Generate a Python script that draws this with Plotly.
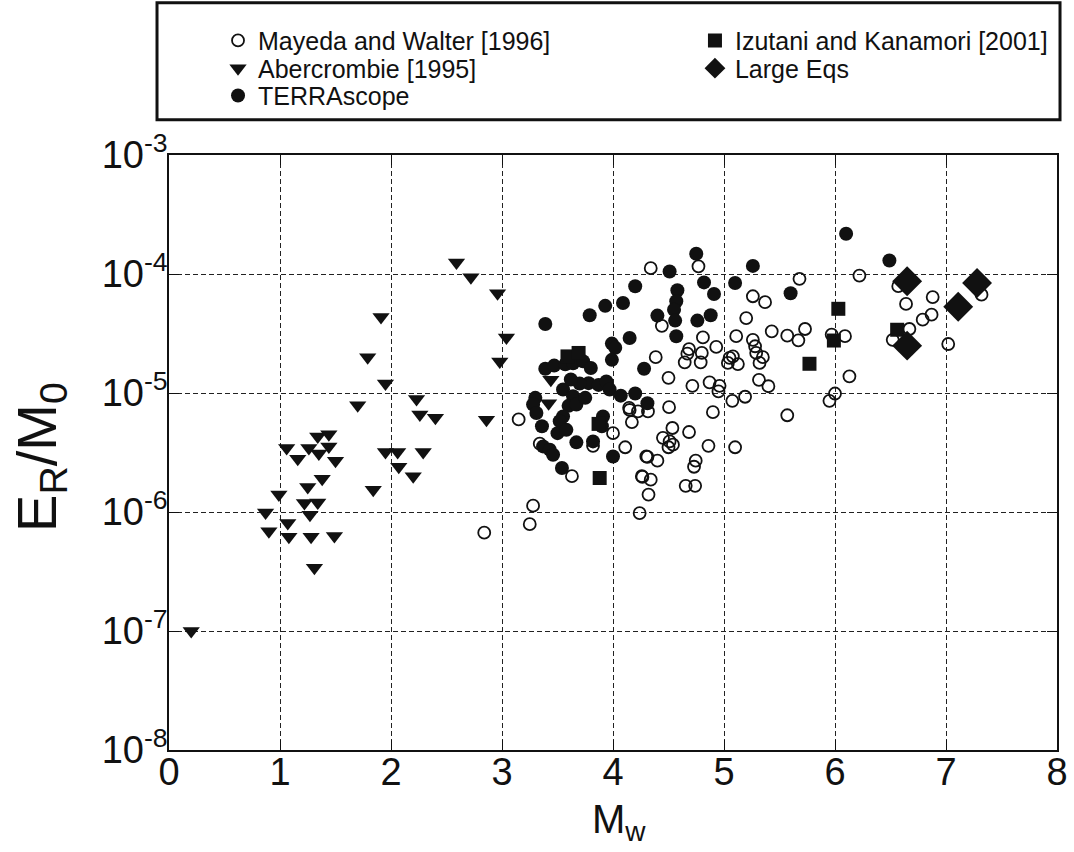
import plotly.graph_objects as go

# ---------------- data ----------------
mayeda_mw = [3.15, 3.28, 3.25, 2.84, 3.34, 3.63, 3.82, 4.00, 4.11, 4.15, 4.225, 4.17,
             4.30, 4.26, 4.32, 4.24, 4.34, 4.77, 5.68, 5.26, 5.37, 5.20, 4.44, 4.81,
             5.11, 5.26, 5.28, 5.29, 5.35, 5.32, 4.93, 4.685, 4.67, 4.646, 4.80, 4.79,
             4.385, 5.05, 5.08, 5.125, 5.035, 5.43, 5.57, 5.67, 5.73, 6.09, 5.97, 6.22,
             6.57, 6.64, 6.88, 6.87, 6.79, 6.67, 6.52, 7.32, 7.02, 6.13, 6.00, 5.95,
             5.57, 5.315, 5.40, 5.075, 5.19, 4.90, 4.87, 4.96, 4.95, 4.715, 4.50, 4.505,
             5.10, 4.685, 4.86, 4.535, 4.45, 4.51, 4.54, 4.50, 4.31, 4.40, 4.265, 4.34,
             4.745, 4.73, 4.655, 4.74, 4.145, 4.315]
mayeda_er = [6.0e-6, 1.13e-6, 7.9e-7, 6.7e-7, 3.75e-6, 2.0e-6, 3.6e-6, 4.6e-6, 3.5e-6, 7.2e-6, 7.0e-6, 5.7e-6,
             2.93e-6, 2.0e-6, 1.4e-6, 9.8e-7, 1.12e-4, 1.16e-4, 9.1e-5, 6.5e-5, 5.8e-5, 4.26e-5, 3.67e-5, 2.93e-5,
             3.0e-5, 2.8e-5, 2.47e-5, 2.17e-5, 2.0e-5, 1.79e-5, 2.44e-5, 2.34e-5, 2.14e-5, 1.81e-5, 2.17e-5, 1.81e-5,
             2.0e-5, 1.97e-5, 2.03e-5, 1.75e-5, 1.79e-5, 3.3e-5, 3.03e-5, 2.77e-5, 3.45e-5, 3.0e-5, 3.1e-5, 9.7e-5,
             7.9e-5, 5.6e-5, 6.4e-5, 4.55e-5, 4.13e-5, 3.45e-5, 2.8e-5, 6.7e-5, 2.58e-5, 1.38e-5, 9.9e-6, 8.6e-6,
             6.5e-6, 1.29e-5, 1.14e-5, 8.6e-6, 9.3e-6, 6.9e-6, 1.23e-5, 1.15e-5, 1.03e-5, 1.15e-5, 1.34e-5, 7.6e-6,
             3.5e-6, 4.7e-6, 3.6e-6, 5.08e-6, 4.2e-6, 3.92e-6, 3.68e-6, 3.5e-6, 2.9e-6, 2.7e-6, 1.97e-6, 1.87e-6,
             2.7e-6, 2.4e-6, 1.66e-6, 1.66e-6, 7.5e-6, 7.0e-6]

aber_mw = [2.59, 2.72, 2.96, 3.04, 2.98, 1.91, 1.79, 1.95, 1.70, 2.23, 2.26, 2.40, 2.86,
           1.95, 2.06, 2.29, 2.07, 2.20, 1.84,
           1.06, 1.16, 1.26, 1.34, 1.44, 1.35, 1.44, 1.50, 1.38, 1.25, 0.99, 1.22, 1.34,
           1.27, 0.87, 1.07, 0.90, 1.08, 1.28, 1.49, 1.31, 0.20, 3.44, 3.42]
aber_er = [1.25e-4, 9.4e-5, 6.9e-5, 2.93e-5, 1.84e-5, 4.35e-5, 2.0e-5, 1.2e-5, 7.9e-6, 8.9e-6, 6.6e-6, 6.2e-6, 5.97e-6,
           3.2e-6, 3.2e-6, 3.2e-6, 2.4e-6, 2.0e-6, 1.54e-6,
           3.45e-6, 2.8e-6, 3.45e-6, 4.3e-6, 4.5e-6, 3.1e-6, 3.56e-6, 2.7e-6, 1.9e-6, 1.62e-6, 1.4e-6, 1.19e-6, 1.2e-6,
           9.5e-7, 9.9e-7, 8.1e-7, 6.9e-7, 6.2e-7, 6.2e-7, 6.3e-7, 3.4e-7, 1.0e-7, 1.29e-5, 8.2e-6]

terra_mw = [3.39, 3.79, 3.93, 4.09, 4.20, 4.15, 3.99, 4.02, 3.99, 4.28, 3.39, 3.47, 3.57, 3.64,
            3.73, 3.80, 3.78, 3.87, 3.94, 3.97, 3.55, 3.64, 3.60, 3.67, 3.75, 3.30, 3.28, 3.31,
            3.55, 3.52, 3.50, 3.58, 3.36, 3.37, 3.43, 3.46, 3.54, 3.67, 3.82, 3.91, 3.90, 4.00,
            4.07, 4.75, 4.51, 5.26, 4.82, 4.91, 5.10, 4.58, 4.57, 4.55, 4.56, 4.40, 4.76, 4.88,
            4.57, 4.20, 4.31, 6.10, 6.49, 5.60, 3.70, 3.62]
terra_er = [3.8e-5, 4.5e-5, 5.4e-5, 5.7e-5, 7.9e-5, 2.9e-5, 2.6e-5, 2.4e-5, 1.9e-5, 1.6e-5, 1.6e-5, 1.7e-5, 1.74e-5, 1.78e-5,
            1.85e-5, 1.62e-5, 1.21e-5, 1.17e-5, 1.25e-5, 1.07e-5, 1.07e-5, 9.4e-6, 7.8e-6, 8.0e-6, 9.1e-6, 9.1e-6, 8.0e-6, 6.8e-6,
            6.35e-6, 5.8e-6, 4.6e-6, 4.9e-6, 5.25e-6, 3.56e-6, 3.34e-6, 3.03e-6, 2.34e-6, 3.85e-6, 3.92e-6, 6.35e-6, 5.25e-6, 2.93e-6,
            9.5e-6, 1.48e-4, 1.05e-4, 1.17e-4, 8.5e-5, 6.8e-5, 8.4e-5, 7.3e-5, 5.9e-5, 5.0e-5, 4.06e-5, 4.47e-5, 4.06e-5, 4.5e-5,
            3.0e-5, 9.9e-6, 8.2e-6, 2.18e-4, 1.3e-4, 6.9e-5, 1.2e-5, 1.3e-5]

izu_mw = [3.59, 3.69, 3.87, 3.88, 6.03, 5.99, 5.77, 6.56]
izu_er = [2.03e-5, 2.17e-5, 5.5e-6, 1.93e-6, 5.1e-5, 2.76e-5, 1.76e-5, 3.4e-5]

large_mw = [6.65, 7.28, 7.11, 6.65]
large_er = [8.7e-5, 8.4e-5, 5.3e-5, 2.5e-5]

x_ticks = [0, 1, 2, 3, 4, 5, 6, 7, 8]
y_exps = [-3, -4, -5, -6, -7, -8]

FONT = "Liberation Sans, Arial, sans-serif"
INK = "#111111"

fig = go.Figure()
fig.add_trace(go.Scatter(x=mayeda_mw, y=mayeda_er, mode="markers", name="Mayeda and Walter [1996]",
                         marker=dict(symbol="circle-open", size=12, color=INK, line=dict(width=1.8)),
                         legend="legend"))
fig.add_trace(go.Scatter(x=aber_mw, y=aber_er, mode="markers", name="Abercrombie [1995]",
                         marker=dict(symbol="triangle-down", size=15, color=INK, line=dict(width=0)),
                         legend="legend2"))
fig.add_trace(go.Scatter(x=terra_mw, y=terra_er, mode="markers", name="TERRAscope",
                         marker=dict(symbol="circle", size=14, color=INK, line=dict(width=0)),
                         legend="legend3"))
fig.add_trace(go.Scatter(x=izu_mw, y=izu_er, mode="markers", name="Izutani and Kanamori [2001]",
                         marker=dict(symbol="square", size=14, color=INK, line=dict(width=0)),
                         legend="legend4"))
fig.add_trace(go.Scatter(x=large_mw, y=large_er, mode="markers", name="Large Eqs",
                         marker=dict(symbol="diamond", size=23, color=INK, line=dict(width=0)),
                         legend="legend5"))

def leg(x, y):
    return dict(x=x, y=y, xanchor="left", yanchor="middle", bgcolor="rgba(0,0,0,0)",
                borderwidth=0, font=dict(family=FONT, size=25, color=INK))

axis_common = dict(showline=True, linecolor=INK, linewidth=1.5, mirror="ticks",
                   ticks="inside", ticklen=10, tickwidth=1.2, tickcolor=INK,
                   showgrid=True, gridcolor="#222222", gridwidth=1, griddash="5px,3px",
                   zeroline=False, automargin=False,
                   tickfont=dict(family=FONT, size=38, color=INK))

fig.update_layout(
    width=1074, height=852,
    margin=dict(l=169, r=17, t=155, b=102, autoexpand=False),
    paper_bgcolor="white", plot_bgcolor="white",
    showlegend=True,
    legend=leg(0.0552, 1.1921),
    legend2=leg(0.0552, 1.1455),
    legend3=leg(0.0552, 1.0997),
    legend4=leg(0.5923, 1.1921),
    legend5=leg(0.5923, 1.1455),
    xaxis=dict(range=[0, 8], tickmode="array", tickvals=x_ticks, ticklabelstandoff=-12,
               ticktext=[str(v) for v in x_ticks], **axis_common),
    yaxis=dict(type="log", range=[-8, -3], tickmode="array", ticklabelstandoff=-8,
               tickvals=[10.0 ** e for e in y_exps],
               ticktext=["10<sup>%d</sup>" % e for e in y_exps], **axis_common),
    shapes=[dict(type="rect", xref="paper", yref="paper", x0=-0.0135, x1=1.0034,
                 y0=1.0593, y1=1.256, line=dict(color=INK, width=3), fillcolor="rgba(0,0,0,0)")],
    annotations=[
        dict(text="E<sub>R</sub>/M<sub>0</sub>", xref="paper", yref="paper", x=-0.145, y=0.493,
             xanchor="center", yanchor="middle",
             textangle=-90, showarrow=False, font=dict(family=FONT, size=56, color=INK)),
        dict(text="M<sub>w</sub>", xref="paper", yref="paper", x=0.507, y=-0.1205,
             xanchor="center", yanchor="middle",
             showarrow=False, font=dict(family=FONT, size=40, color=INK)),
    ],
)

fig.write_html("out.html", config={"displayModeBar": False},
               post_script="document.body.style.margin='0px';")
